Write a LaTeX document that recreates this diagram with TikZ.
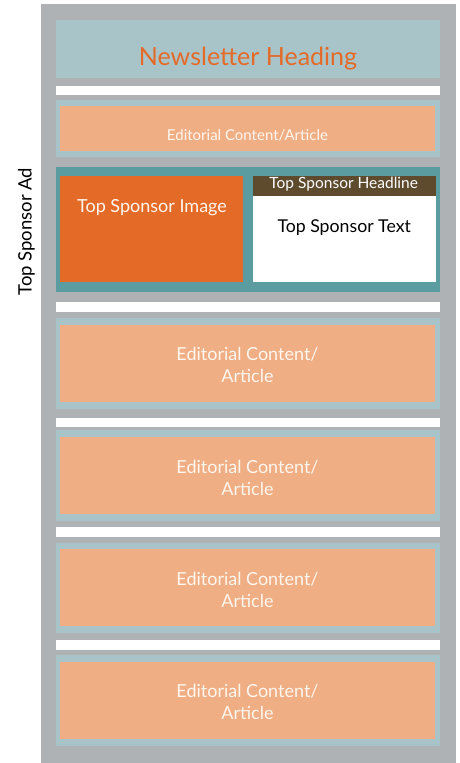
\documentclass[tikz,border=0pt]{standalone}
\usepackage{fontspec}
\setmainfont{Lato}
\usetikzlibrary{positioning}

\definecolor{pagegray}{HTML}{AFB2B4}
\definecolor{paleblue}{HTML}{A9C4C9}
\definecolor{peach}{HTML}{F0AE84}
\definecolor{sponsorteal}{HTML}{5B9CA1}
\definecolor{rust}{HTML}{E46A27}
\definecolor{headbrown}{HTML}{5E4A2D}
\definecolor{cream}{HTML}{FFF6EE}

\tikzset{
  blk/.style={inner sep=0pt, outer sep=0pt, anchor=north west},
  gap/.style={blk, fill=white, minimum width=384pt, minimum height=9pt},
  shell/.style={blk, fill=paleblue, minimum width=384pt, minimum height=90.7pt},
  article/.style={blk, fill=peach, minimum width=375pt, minimum height=77pt},
  arttxt/.style={text=cream, align=center, font=\fontsize{18}{22}\selectfont},
}

\begin{document}
\begin{tikzpicture}[x=1pt, y=-1pt]

  \useasboundingbox (0,0) rectangle (459,763);

  % Page and heading
  \node[blk, fill=pagegray, minimum width=415pt, minimum height=759pt] (page) at (41,4) {};
  \node[blk, fill=paleblue, minimum width=384pt, minimum height=58pt] (head) at (56,20) {};
  \node[anchor=base, text=rust, font=\fontsize{25}{30}\selectfont] (headtitle) at (248,65.7) {Newsletter Heading};
  \node[gap, minimum height=8.7pt] (gap0) at (56,86) {};

  % Short editorial strip
  \node[blk, fill=paleblue, minimum width=384pt, minimum height=56.7pt] (edshell) at (56,100) {};
  \node[blk, fill=peach, minimum width=375pt, minimum height=45pt] (edbox) at (60,106) {};
  \node[anchor=base, text=cream, font=\fontsize{15}{18}\selectfont] (edtitle) at (247.5,140) {Editorial Content/Article};

  % Top sponsor block
  \node[blk, fill=sponsorteal, minimum width=384pt, minimum height=125pt] (sponsor) at (56,166.7) {};
  \node[blk, fill=rust, minimum width=183pt, minimum height=106pt] (spimage) at (60,175.7) {};
  \node[blk, fill=headbrown, minimum width=183pt, minimum height=20pt] (sphead) at (253,175.7) {};
  \node[blk, fill=white, minimum width=183pt, minimum height=86pt] (sptext) at (253,195.7) {};
  \node[anchor=base, text=cream, font=\fontsize{18}{22}\selectfont] (spimagetxt) at (152,212.3) {Top Sponsor Image};
  \node[anchor=base, text=white, font=\fontsize{15.5}{19}\selectfont] (sphtxt) at (343.7,188.3) {Top Sponsor Headline};
  \node[anchor=base, text=black, font=\fontsize{17.7}{22}\selectfont] (sptxt) at (344.2,232.7) {Top Sponsor Text};
  \node[anchor=base, rotate=90, font=\fontsize{18.5}{22}\selectfont] (spad) at (31.7,231.7) {Top Sponsor Ad};

  % Articles
  \node[gap, minimum height=9.7pt] (gap1) at (56,302.3) {};
  \node[shell] (shell1) at (56,318) {};
  \node[article] (art1) at (60,324.7) {};
  \node[arttxt] (art1txt) at ([yshift=-2pt]art1.center) {Editorial Content/\\Article};

  \node[gap] (gap2) at (56,417.8) {};
  \node[shell] (shell2) at (56,430.3) {};
  \node[article] (art2) at (60,437) {};
  \node[arttxt] (art2txt) at ([yshift=-2pt]art2.center) {Editorial Content/\\Article};

  \node[gap, minimum height=9.7pt] (gap3) at (56,527) {};
  \node[shell] (shell3) at (56,542.6) {};
  \node[article] (art3) at (60,549.3) {};
  \node[arttxt] (art3txt) at ([yshift=-2pt]art3.center) {Editorial Content/\\Article};

  \node[gap, minimum height=9.7pt] (gap4) at (56,640) {};
  \node[shell] (shell4) at (56,654.9) {};
  \node[article] (art4) at (60,661.6) {};
  \node[arttxt] (art4txt) at ([yshift=-2pt]art4.center) {Editorial Content/\\Article};

\end{tikzpicture}
\end{document}
